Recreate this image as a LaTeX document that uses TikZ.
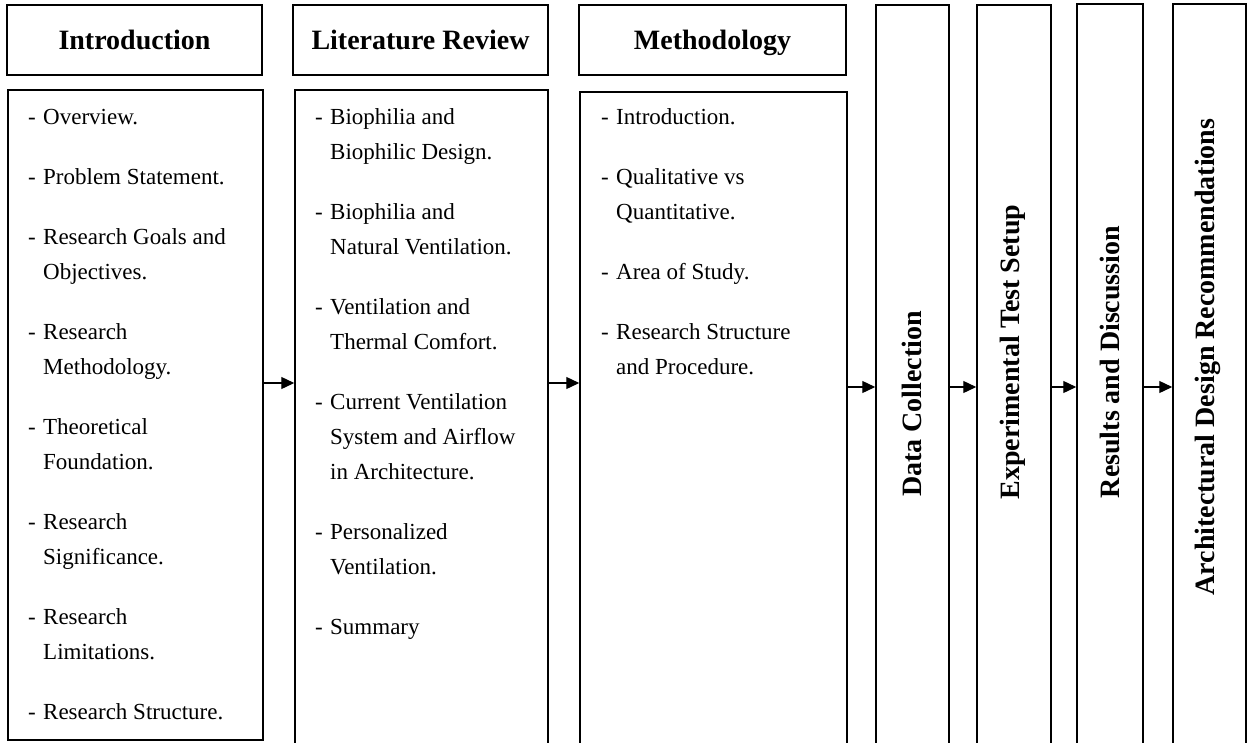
\documentclass[tikz,border=0pt]{standalone}
\usepackage{fontspec}
\setmainfont{Liberation Serif}
\usetikzlibrary{arrows.meta}
\newcommand\firstln[1]{\hbox{\hbox to 15pt{-\hfil}#1}}
\newcommand\nextln[1]{\hbox{\hskip15pt #1}}
\newcommand\itemgap{\vskip25pt}
\newcommand\listbox[1]{\vtop{\baselineskip=35pt\lineskiplimit=0pt #1}}
\begin{document}
\begin{tikzpicture}[x=1pt,y=-1pt,
  box/.style={draw, line width=1.5pt, inner sep=0pt},
  head/.style={box, font=\fontsize{28}{34}\selectfont\bfseries, text depth=0pt},
  listtext/.style={inner sep=0pt, anchor=base west, font=\fontsize{23}{35}\selectfont},
  vlabel/.style={rotate=90, inner sep=0pt, font=\fontsize{28}{34}\selectfont\bfseries},
  arr/.style={line width=1.3pt, -{Triangle[length=13pt,width=12pt]}}]
\useasboundingbox (0,0) rectangle (1249,742);
\clip (0,0) rectangle (1249,742);
% headers
\node[head, minimum width=255, minimum height=70] (ih) at (134.5,40) {Introduction};
\node[head, minimum width=255, minimum height=70] (lh) at (420.5,40) {Literature Review};
\node[head, minimum width=267, minimum height=70] (mh) at (712.5,40) {Methodology};
% content boxes
\node[box, minimum width=255, minimum height=650] (ic) at (135.5,415) {};
\node[box, minimum width=253, minimum height=670] (lc) at (421.5,425) {};
\node[box, minimum width=267, minimum height=668] (mc) at (713.5,426) {};
% tall boxes
\node[box, minimum width=73, minimum height=755] (dc) at (912.5,382.5) {};
\node[box, minimum width=74, minimum height=755] (et) at (1014,382.5) {};
\node[box, minimum width=66, minimum height=756] (rd) at (1110,382) {};
\node[box, minimum width=73, minimum height=756] (ad) at (1209.5,382) {};
% vertical labels
\node[vlabel] (dct) at (912,404) {Data Collection};
\node[vlabel] (ett) at (1013,352) {Experimental Test Setup};
\node[vlabel] (rdt) at (1110,362) {Results and Discussion};
\node[vlabel] (adt) at (1208,357) {Architectural Design Recommendations};
% lists
\node[listtext] (il) at (28,124) {\listbox{%
  \firstln{Overview.}\itemgap
  \firstln{Problem Statement.}\itemgap
  \firstln{Research Goals and}
  \nextln{Objectives.}\itemgap
  \firstln{Research}
  \nextln{Methodology.}\itemgap
  \firstln{Theoretical}
  \nextln{Foundation.}\itemgap
  \firstln{Research}
  \nextln{Significance.}\itemgap
  \firstln{Research}
  \nextln{Limitations.}\itemgap
  \firstln{Research Structure.}}};
\node[listtext] (ll) at (315,124) {\listbox{%
  \firstln{Biophilia and}
  \nextln{Biophilic Design.}\itemgap
  \firstln{Biophilia and}
  \nextln{Natural Ventilation.}\itemgap
  \firstln{Ventilation and}
  \nextln{Thermal Comfort.}\itemgap
  \firstln{Current Ventilation}
  \nextln{System and Airflow}
  \nextln{in Architecture.}\itemgap
  \firstln{Personalized}
  \nextln{Ventilation.}\itemgap
  \firstln{Summary}}};
\node[listtext] (ml) at (601,124) {\listbox{%
  \firstln{Introduction.}\itemgap
  \firstln{Qualitative vs}
  \nextln{Quantitative.}\itemgap
  \firstln{Area of Study.}\itemgap
  \firstln{Research Structure}
  \nextln{and Procedure.}}};
% arrows
\coordinate (ya) at (0,383);
\coordinate (yb) at (0,387);
\draw[arr] (ic.east |- ya) -- (lc.west |- ya);
\draw[arr] (lc.east |- ya) -- (mc.west |- ya);
\draw[arr] (mc.east |- yb) -- (dc.west |- yb);
\draw[arr] (dc.east |- yb) -- (et.west |- yb);
\draw[arr] (et.east |- yb) -- (rd.west |- yb);
\draw[arr] (rd.east |- yb) -- (ad.west |- yb);
\end{tikzpicture}
\end{document}
